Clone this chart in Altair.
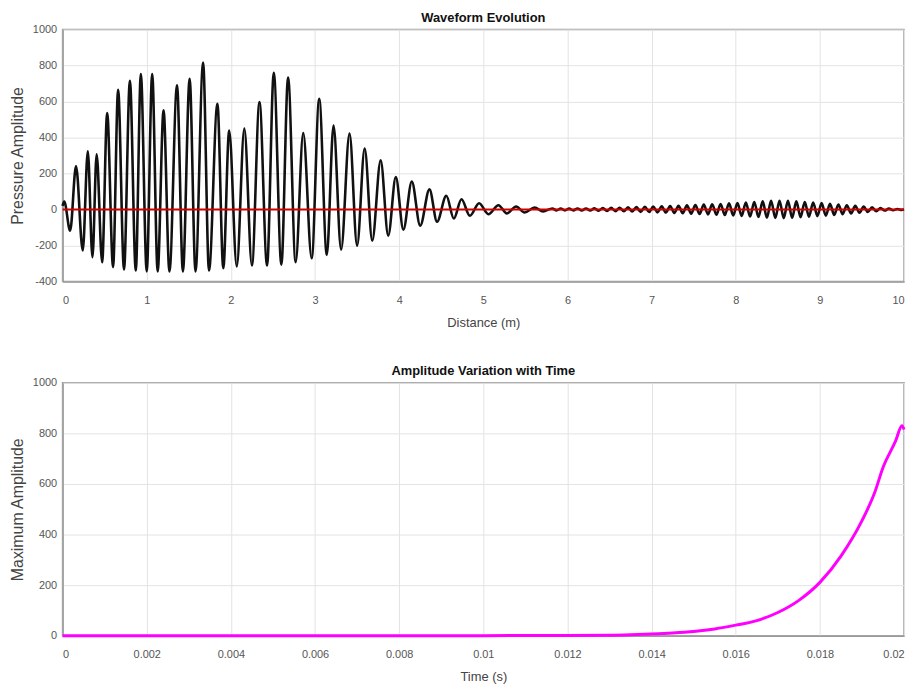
import altair as alt
import pandas as pd

# ---- Top panel: waveform (extrema) ----
dist_m = [
    0.0, 0.02, 0.09, 0.16, 0.24, 0.30, 0.355, 0.405, 0.47, 0.53, 0.60, 0.66, 0.73, 0.80, 0.87,
    0.93, 1.00, 1.065, 1.13, 1.20, 1.27, 1.36, 1.43, 1.51, 1.58, 1.67, 1.74, 1.84, 1.91, 1.98,
    2.07, 2.16, 2.25, 2.34, 2.43, 2.51, 2.60, 2.68, 2.77, 2.86, 2.96, 3.05, 3.14, 3.22, 3.31,
    3.41, 3.50, 3.59, 3.68, 3.78, 3.87, 3.96, 4.05, 4.15, 4.25, 4.36, 4.45, 4.56, 4.65, 4.74,
    4.84, 4.95, 5.06, 5.18, 5.28, 5.39, 5.49, 5.61, 5.71,
    5.82, 5.87, 5.92, 5.97, 6.02, 6.07, 6.12, 6.17, 6.22, 6.27, 6.32, 6.37, 6.42, 6.47, 6.52,
    6.57, 6.62, 6.67, 6.72, 6.77, 6.82, 6.87, 6.92, 6.97, 7.02, 7.07, 7.12, 7.17, 7.22, 7.27,
    7.32, 7.37, 7.42, 7.47, 7.52, 7.57, 7.62, 7.67, 7.72, 7.77, 7.82, 7.87, 7.92, 7.97, 8.02,
    8.07, 8.12, 8.17, 8.22, 8.27, 8.32, 8.37, 8.42, 8.47, 8.52, 8.57, 8.62, 8.67, 8.72, 8.77,
    8.82, 8.87, 8.92, 8.97, 9.02, 9.07, 9.12, 9.17, 9.22, 9.27, 9.32, 9.37, 9.42, 9.47, 9.52,
    9.57, 9.62, 9.67, 9.72, 9.77, 9.82, 9.87, 9.92, 9.97, 10.0,
]
pressure = [
    20, 44, -118, 241, -228, 324, -265, 306, -293, 536, -320, 665, -333, 715, -339,
    753, -344, 753, -344, 551, -344, 690, -344, 726, -344, 816, -339, 587, -326, 438,
    -317, 450, -311, 597, -311, 760, -306, 733, -293, 425, -271, 615, -252, 466, -223,
    422, -201, 339, -173, 273, -145, 180, -112, 155, -90, 112, -68, 76, -50, 57,
    -35, 35, -26, 24, -22, 17, -17, 11, -11,
    6, -5, 5, -5, 5, -5, 6, -6, 6, -6, 7, -7, 8, -8, 9,
    -9, 10, -10, 12, -11, 13, -13, 15, -14, 16, -16, 18, -17, 19, -19,
    21, -21, 23, -23, 25, -25, 27, -27, 29, -29, 31, -31, 34, -33, 36,
    -36, 39, -39, 42, -42, 45, -45, 48, -47, 49, -48, 48, -46, 45, -43,
    42, -40, 39, -37, 36, -34, 32, -30, 28, -26, 24, -22, 20, -18, 16,
    -14, 12, -10, 8, -6, 5, -4, 3, -2, 0,
]
zero_x = [0, 10]
zero_y = [0, 0]

# ---- Bottom panel: maximum amplitude vs time ----
time_s = [0, 0.002, 0.004, 0.006, 0.008, 0.010, 0.012, 0.013, 0.0135, 0.014, 0.0145,
          0.015, 0.0155, 0.016, 0.0165, 0.017, 0.0175, 0.018, 0.0185, 0.019, 0.0193,
          0.0195, 0.0198, 0.01995, 0.02]
max_amp = [0, 0, 0, 0, 0, 0.5, 1, 2, 4, 7, 11, 17, 27, 42, 60, 92, 140, 211, 315, 455, 565,
           665, 770, 830, 815]

x_ticks_top = [0, 1, 2, 3, 4, 5, 6, 7, 8, 9, 10]
y_ticks_top = [-400, -200, 0, 200, 400, 600, 800, 1000]
x_ticks_bot = [0, 0.002, 0.004, 0.006, 0.008, 0.01, 0.012, 0.014, 0.016, 0.018, 0.02]
y_ticks_bot = [0, 200, 400, 600, 800, 1000]

wave = pd.DataFrame({"d": dist_m, "p": pressure})
zero = pd.DataFrame({"d": zero_x, "p": zero_y})
amp = pd.DataFrame({"t": time_s, "a": max_amp})

FONT = "Liberation Sans"

def xaxis(title, vals):
    return alt.Axis(title=title, values=vals, labelExpr="'' + datum.value", grid=True,
                    ticks=False, labelOverlap=False, labelPadding=13, titlePadding=11)

def yaxis(title, vals):
    return alt.Axis(title=title, values=vals, labelExpr="'' + datum.value", grid=True,
                    ticks=False, labelOverlap=False, labelPadding=6, titlePadding=7,
                    titleFontSize=16)

top_x = alt.Scale(domain=[0, 10], nice=False)
top_y = alt.Scale(domain=[-400, 1000], nice=False)
top_xaxis = xaxis("Distance (m)", x_ticks_top)
top_yaxis = yaxis("Pressure Amplitude", y_ticks_top)

top_line = alt.Chart(wave).mark_line(
    color="#111111", strokeWidth=2.6, interpolate="monotone", strokeJoin="round"
).encode(
    x=alt.X("d:Q", scale=top_x, axis=top_xaxis),
    y=alt.Y("p:Q", scale=top_y, axis=top_yaxis),
)
top_zero = alt.Chart(zero).mark_line(color="#d00000", strokeWidth=2).encode(
    x=alt.X("d:Q", scale=top_x, axis=top_xaxis),
    y=alt.Y("p:Q", scale=top_y, axis=top_yaxis),
)
top = alt.layer(top_line, top_zero).properties(
    width=848, height=254, title="Waveform Evolution"
)

bottom = alt.Chart(amp).mark_line(
    color="#ff00ff", strokeWidth=3, interpolate="monotone"
).encode(
    x=alt.X("t:Q", scale=alt.Scale(domain=[0, 0.02], nice=False),
            axis=xaxis("Time (s)", x_ticks_bot)),
    y=alt.Y("a:Q", scale=alt.Scale(domain=[0, 1000], nice=False),
            axis=yaxis("Maximum Amplitude", y_ticks_bot)),
).properties(width=848, height=255, title="Amplitude Variation with Time")

chart = alt.vconcat(top, bottom, spacing=34).configure(
    font=FONT, padding=0
).configure_view(
    stroke="#9a9a9a", strokeWidth=1.5
).configure_axis(
    labelFont=FONT, labelFontSize=11, labelColor="#555555",
    titleFont=FONT, titleFontSize=13, titleFontWeight="normal", titleColor="#444444",
    gridColor="#e3e3e3", gridWidth=1, domainColor="#9a9a9a", domainWidth=1.5,
).configure_title(
    font=FONT, fontSize=13, fontWeight="bold", color="#111111", offset=-1, anchor="middle"
)

chart.save("out.html", embed_options={"renderer": "svg", "actions": False})
